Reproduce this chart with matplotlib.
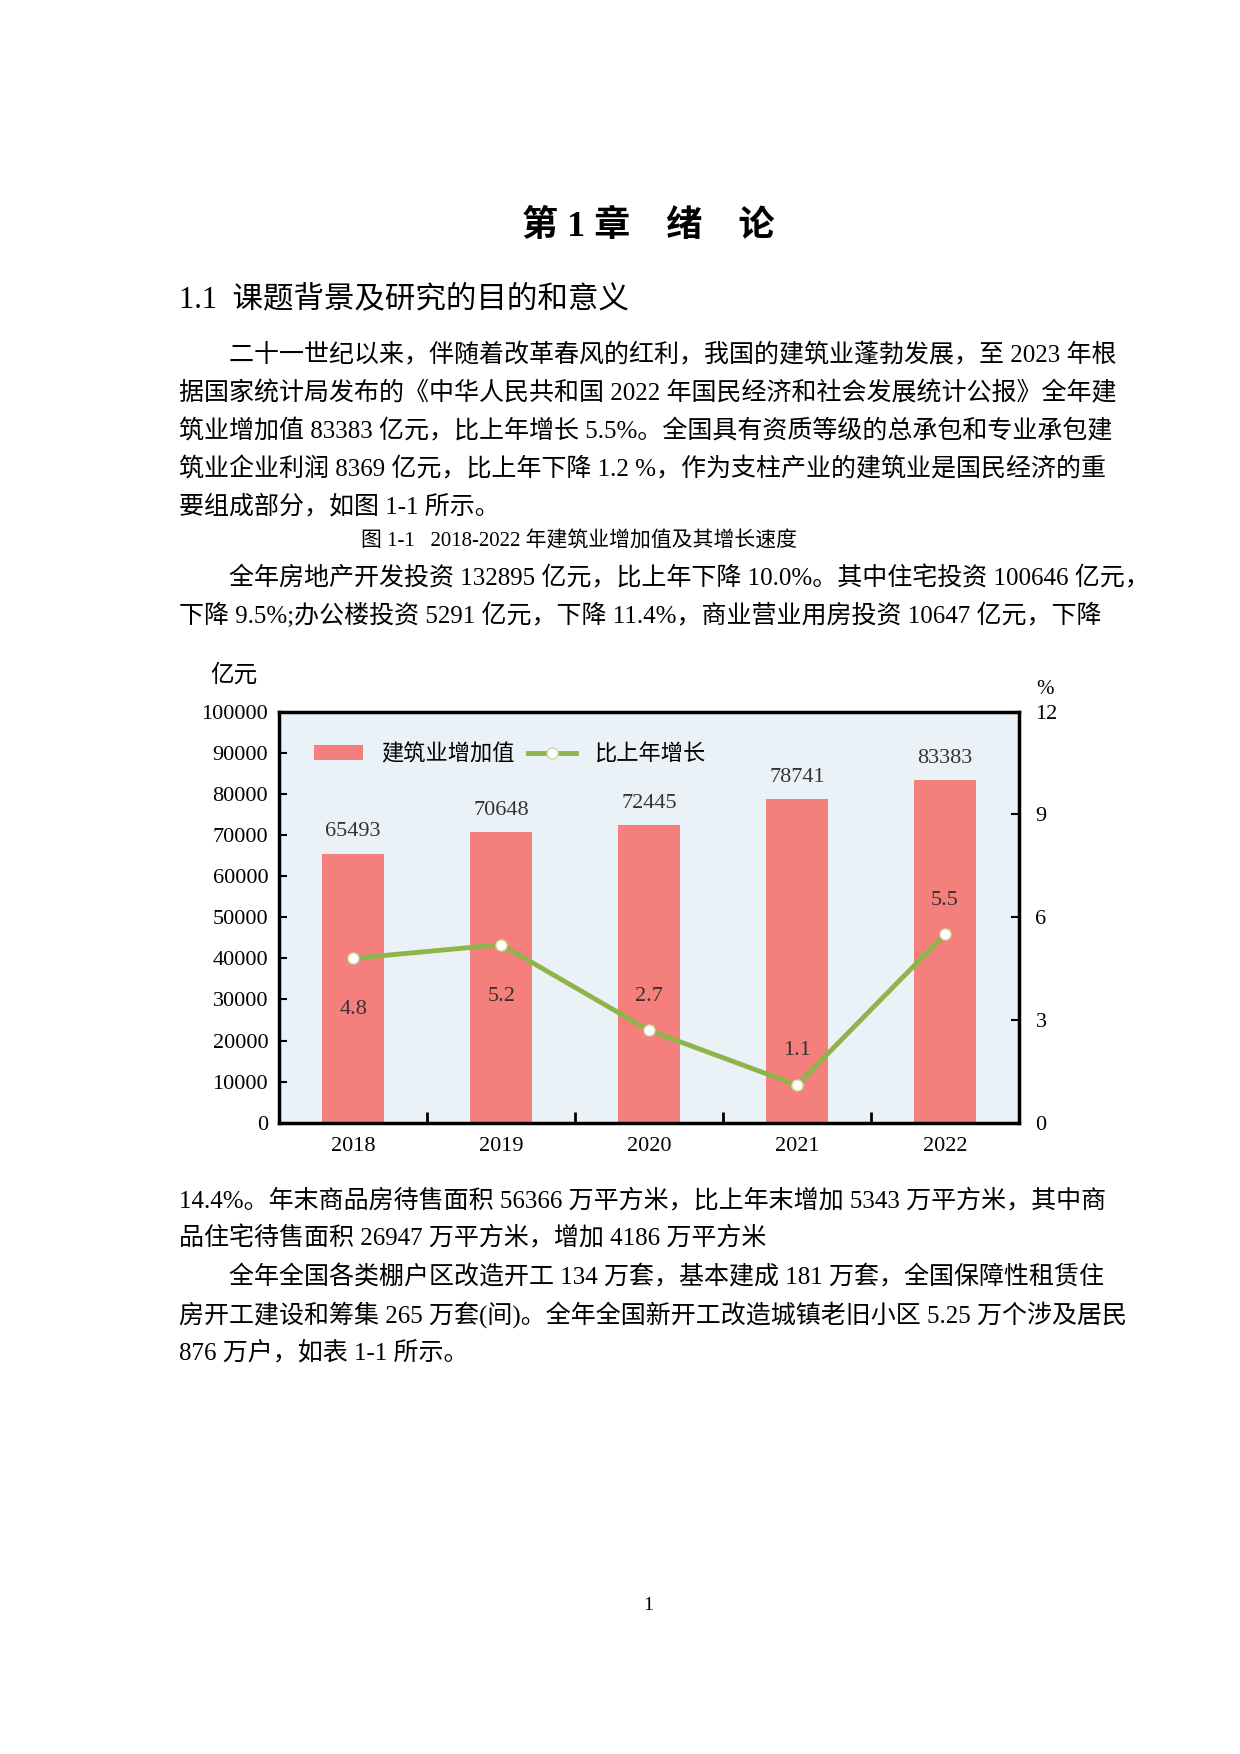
import matplotlib.pyplot as plt
from matplotlib.ticker import FixedLocator

plt.rcParams['font.family'] = ['Liberation Serif', 'Noto Sans CJK SC']

years = ['2018', '2019', '2020', '2021', '2022']
added_value = [65493, 70648, 72445, 78741, 83383]
growth = [4.8, 5.2, 2.7, 1.1, 5.5]

para1 = ['二十一世纪以来，伴随着改革春风的红利，我国的建筑业蓬勃发展，至 2023 年根',
         '据国家统计局发布的《中华人民共和国 2022 年国民经济和社会发展统计公报》全年建',
         '筑业增加值 83383 亿元，比上年增长 5.5%。全国具有资质等级的总承包和专业承包建',
         '筑业企业利润 8369 亿元，比上年下降 1.2 %，作为支柱产业的建筑业是国民经济的重',
         '要组成部分，如图 1-1 所示。']
para2 = ['全年房地产开发投资 132895 亿元，比上年下降 10.0%。其中住宅投资 100646 亿元，',
         '下降 9.5%;办公楼投资 5291 亿元，下降 11.4%，商业营业用房投资 10647 亿元，下降']
para3 = ['14.4%。年末商品房待售面积 56366 万平方米，比上年末增加 5343 万平方米，其中商',
         '品住宅待售面积 26947 万平方米，增加 4186 万平方米',
         '全年全国各类棚户区改造开工 134 万套，基本建成 181 万套，全国保障性租赁住',
         '房开工建设和筹集 265 万套(间)。全年全国新开工改造城镇老旧小区 5.25 万个涉及居民',
         '876 万户，如表 1-1 所示。']

fig = plt.figure(figsize=(12.4, 17.54), dpi=100)
H = 1570.0
W = 1110.0

def fy(y):
    return 1 - y / H

fig.text(580 / W, fy(203), '第 1 章    绪    论', ha='center', va='center', fontsize=26, fontweight='bold')
fig.text(160 / W, fy(268), '1.1  课题背景及研究的目的和意义', ha='left', va='center', fontsize=22)

fs = 18
def lines(ys, texts, indents):
    for y, t, ind in zip(ys, texts, indents):
        fig.text((160 + ind) / W, fy(y), t, ha='left', va='center', fontsize=fs)

lines([318, 352, 386, 420, 453], para1, [45, 0, 0, 0, 0])
fig.text(518 / W, fy(485), '图 1-1   2018-2022 年建筑业增加值及其增长速度', ha='center', va='center', fontsize=15)
lines([518, 551], para2, [45, 0])
lines([1075, 1108, 1143, 1177, 1211], para3, [0, 0, 45, 0, 0])
fig.text(580 / W, fy(1437), '1', ha='center', va='center', fontsize=14)

ax = fig.add_axes([250 / W, fy(1005), 662 / W, (1005 - 637) / H])
ax.set_facecolor('#eaf2f8')
x = range(len(years))
bars = ax.bar(x, added_value, width=0.42, color='#f57f7d', label='建筑业增加值', zorder=2)
for i, v in enumerate(added_value):
    ax.text(i, v + 3000, str(v), ha='center', va='bottom', fontsize=16, color='#333333')
ax.set_xlim(-0.5, 4.5)
ax.set_ylim(0, 100000)
ax.set_yticks(range(0, 100001, 10000))
ax.set_xticks(list(x))
ax.set_xticklabels(years, fontsize=16)
ax.xaxis.set_minor_locator(FixedLocator([0.5, 1.5, 2.5, 3.5]))
ax.tick_params(axis='x', which='major', length=0, pad=10)
ax.tick_params(axis='x', which='minor', direction='in', length=8, width=2)
ax.tick_params(axis='y', direction='in', length=6, width=1.5, labelsize=16, pad=8)
for s in ax.spines.values():
    s.set_linewidth(2.5)

ax2 = ax.twinx()
ln, = ax2.plot(list(x), growth, color='#8db54a', lw=3.5, marker='o', markersize=8,
               markerfacecolor='white', markeredgecolor='#c8dca0', label='比上年增长', zorder=3)
ax2.set_ylim(0, 12)
ax2.set_yticks([0, 3, 6, 9, 12])
ax2.tick_params(axis='y', direction='in', length=6, width=1.5, labelsize=16, pad=12)
offsets = [-1.5, -1.5, 1.0, 1.0, 1.0]
for i, (g, o) in enumerate(zip(growth, offsets)):
    ax2.text(i, g + o, f'{g:.1f}', ha='center', va='center', fontsize=16, color='#333333')

ax.text(-0.03, 1.06, '亿元', transform=ax.transAxes, ha='right', va='bottom', fontsize=17)
ax.text(1.035, 1.03, '%', transform=ax.transAxes, ha='center', va='bottom', fontsize=15)
ax.legend([bars, ln], ['建筑业增加值', '比上年增长'], loc='upper left', ncol=2, frameon=False,
          fontsize=16, bbox_to_anchor=(0.02, 0.97), handlelength=2.2, columnspacing=0.6)

fig.savefig('out.png', dpi=100)
